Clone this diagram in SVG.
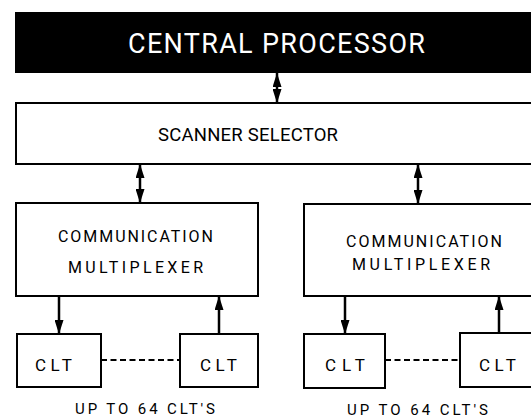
<svg xmlns="http://www.w3.org/2000/svg" width="531" height="418" viewBox="0 0 531 418">
<style>
.box{fill:#fff;stroke:#000;stroke-width:2}
.t{font-family:Roboto,"Liberation Sans",Arial,sans-serif;font-weight:400;fill:#000}
.w{fill:#fff}
.ln{stroke:#000;stroke-width:2.5;fill:none}
.dash{stroke:#000;stroke-width:2.2;stroke-dasharray:6,3.5;fill:none}
</style>
<defs>
<marker id="ah" markerUnits="userSpaceOnUse" markerWidth="14" markerHeight="9" refX="14" refY="4.5" orient="auto-start-reverse">
<path d="M0,0 L14,4.5 L0,9 z" fill="#000"/>
</marker>
</defs>
<rect width="531" height="418" fill="#fff"/>
<g id="central-processor">
<rect x="15" y="12" width="520" height="61" fill="#000"/>
<text class="t w" x="128" y="53" font-size="27" font-weight="500" textLength="297" lengthAdjust="spacing">CENTRAL PROCESSOR</text>
</g>
<g id="scanner-selector">
<rect class="box" x="16" y="103" width="520" height="61"/>
<text class="t" x="158" y="141" font-size="18.5" textLength="180" lengthAdjust="spacing">SCANNER SELECTOR</text>
</g>
<g id="mux-left">
<rect class="box" x="16" y="203" width="242" height="93"/>
<text class="t" x="58" y="242" font-size="16" textLength="155" lengthAdjust="spacing">COMMUNICATION</text>
<text class="t" x="68" y="273" font-size="16" textLength="135" lengthAdjust="spacing">MULTIPLEXER</text>
</g>
<g id="mux-right">
<rect class="box" x="304" y="204" width="232" height="92"/>
<text class="t" x="346" y="247" font-size="16" textLength="156" lengthAdjust="spacing">COMMUNICATION</text>
<text class="t" x="352" y="270" font-size="16" textLength="138" lengthAdjust="spacing">MULTIPLEXER</text>
</g>
<g id="clt-1">
<rect class="box" x="17" y="334" width="84" height="53"/>
<text class="t" x="35" y="371" font-size="17" textLength="37" lengthAdjust="spacing">CLT</text>
</g>
<g id="clt-2">
<rect class="box" x="180" y="334" width="78" height="53"/>
<text class="t" x="200" y="371" font-size="17" textLength="37" lengthAdjust="spacing">CLT</text>
</g>
<g id="clt-3">
<rect class="box" x="304" y="334" width="81" height="54"/>
<text class="t" x="325" y="371" font-size="17" textLength="40" lengthAdjust="spacing">CLT</text>
</g>
<g id="clt-4">
<rect class="box" x="460" y="333" width="80" height="54"/>
<text class="t" x="479" y="371" font-size="17" textLength="37" lengthAdjust="spacing">CLT</text>
</g>
<g id="label-left">
<text class="t" x="75" y="414" font-size="15" textLength="140" lengthAdjust="spacing">UP TO 64 CLT'S</text>
</g>
<g id="label-right">
<text class="t" x="347" y="415" font-size="15" textLength="141" lengthAdjust="spacing">UP TO 64 CLT'S</text>
</g>
<g id="connectors">
<line class="ln" x1="277" y1="73" x2="277" y2="103" marker-start="url(#ah)" marker-end="url(#ah)"/>
<line class="ln" x1="140" y1="164" x2="140" y2="203" marker-start="url(#ah)" marker-end="url(#ah)"/>
<line class="ln" x1="418" y1="164" x2="418" y2="204" marker-start="url(#ah)" marker-end="url(#ah)"/>
<line class="ln" x1="59" y1="296" x2="59" y2="334" marker-end="url(#ah)"/>
<line class="ln" x1="219" y1="334" x2="219" y2="296" marker-end="url(#ah)"/>
<line class="ln" x1="345" y1="296" x2="345" y2="334" marker-end="url(#ah)"/>
<line class="ln" x1="499" y1="333" x2="499" y2="296" marker-end="url(#ah)"/>
<line class="dash" x1="101" y1="360" x2="180" y2="360"/>
<line class="dash" x1="385" y1="360" x2="460" y2="360"/>
</g>
</svg>
